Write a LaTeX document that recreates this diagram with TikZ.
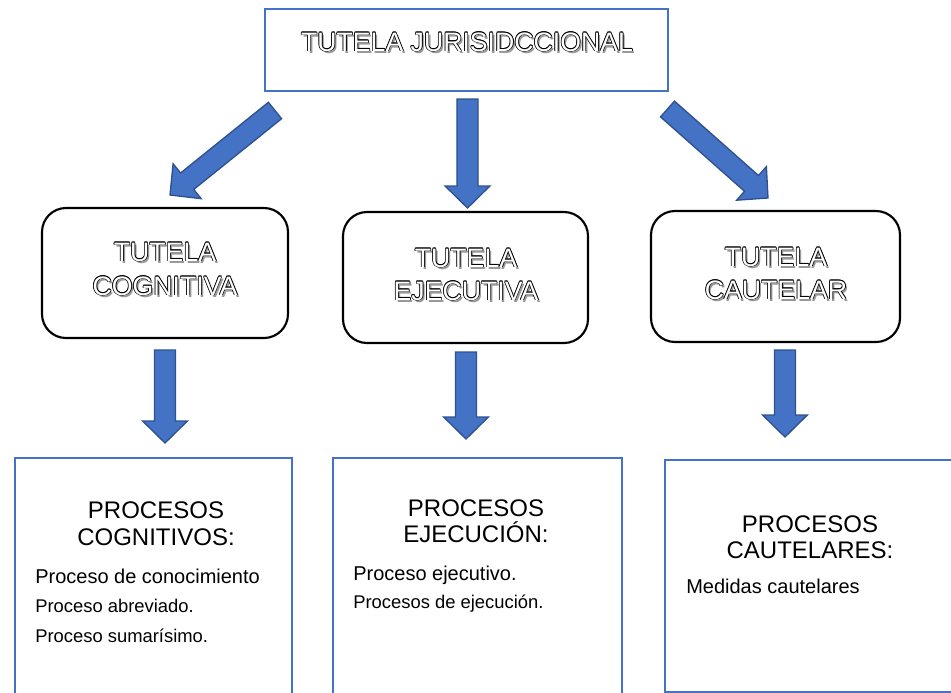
\documentclass[tikz,border=0pt]{standalone}
\usepackage{fontspec}
\setmainfont{Liberation Sans}
\usetikzlibrary{calc,fit}
\definecolor{accblue}{HTML}{4472C4}
\definecolor{accdark}{HTML}{2F528F}
\newcommand\olc[3]{\makebox[0pt][l]{\kern#1\raisebox{#2}{\textcolor{black}{#3}}}}
\newcommand\olt[1]{%
  \makebox[0pt][l]{\kern1.5pt\raisebox{-1.5pt}{\textcolor{black!40}{#1}}}%
  \olc{0.5pt}{0pt}{#1}\olc{-0.5pt}{0pt}{#1}\olc{0pt}{0.5pt}{#1}\olc{0pt}{-0.5pt}{#1}%
  \olc{0.35pt}{0.35pt}{#1}\olc{-0.35pt}{0.35pt}{#1}\olc{0.35pt}{-0.35pt}{#1}\olc{-0.35pt}{-0.35pt}{#1}%
  \textcolor{white}{#1}}
\tikzset{
  bluebox/.style={draw=accblue, line width=1.6pt, inner sep=0pt},
  roundbox/.style={draw=black, line width=1.6pt, rounded corners=18pt, inner sep=0pt},
  olabel/.style={anchor=base, inner sep=0pt, font=\fontsize{20}{24}\selectfont},
  head/.style={anchor=base, inner sep=0pt, font=\fontsize{18}{21}\selectfont},
  itemA/.style={anchor=base west, inner sep=0pt, font=\fontsize{15}{18}\selectfont},
  itemB/.style={anchor=base west, inner sep=0pt, font=\fontsize{13.8}{16}\selectfont},
  blockarr/.style={fill=accblue, draw=accdark, line width=1pt, line join=miter},
}
\newcommand\blockarrow[2]{%
  \coordinate (#1h) at ($(#2)!16.5pt!(#1)$);
  \draw[blockarr]
    ($(#1)!7.9pt!90:(#2)$) --
    ($(#1h)!7.9pt!-90:(#1)$) --
    ($(#1h)!16.8pt!-90:(#1)$) --
    (#2) --
    ($(#1h)!16.8pt!90:(#1)$) --
    ($(#1h)!7.9pt!90:(#1)$) --
    ($(#1)!7.9pt!-90:(#2)$) -- cycle;}
\begin{document}
\begin{tikzpicture}[x=0.75pt,y=-0.75pt]
\useasboundingbox (0,0) rectangle (951,693);
\clip (0,0) rectangle (951,693);
\fill[white] (0,0) rectangle (951,693);

% top box
\node[bluebox, fit={(265,9)(668,91)}] (top) {};
\node[olabel] (toptxt) at (467,51) {\olt{TUTELA JURISIDCCIONAL}};

% rounded boxes
\node[roundbox, fit={(42,208)(288,338)}] (cog) {};
\node[olabel] (cog1) at (165,261) {\olt{TUTELA}};
\node[olabel] (cog2) at (165,295) {\olt{COGNITIVA}};

\node[roundbox, fit={(343,212)(588,343)}] (eje) {};
\node[olabel] (eje1) at (466,267) {\olt{TUTELA}};
\node[olabel] (eje2) at (466,300) {\olt{EJECUTIVA}};

\node[roundbox, fit={(651,211)(900,342)}] (cau) {};
\node[olabel] (cau1) at (776,266) {\olt{TUTELA}};
\node[olabel] (cau2) at (776,299) {\olt{CAUTELAR}};

% bottom boxes
\node[bluebox, fit={(15,458)(292,710)}] (pc) {};
\node[head] (pc1) at (156,518) {PROCESOS};
\node[head] (pc2) at (156,545) {COGNITIVOS:};
\node[itemA] (pc3) at (35,583) {Proceso de conocimiento};
\node[itemB] (pc4) at (35,612) {Proceso abreviado.};
\node[itemB] (pc5) at (35,642) {Proceso sumarísimo.};

\node[bluebox, fit={(333,458)(622,710)}] (pe) {};
\node[head] (pe1) at (476,516) {PROCESOS};
\node[head] (pe2) at (476,542) {EJECUCIÓN:};
\node[itemA] (pe3) at (353,580) {Proceso ejecutivo.};
\node[itemB] (pe4) at (353,608) {Procesos de ejecución.};

\node[bluebox, fit={(665,460)(970,692)}] (pk) {};
\node[head] (pk1) at (810,532) {PROCESOS};
\node[head] (pk2) at (810,558) {CAUTELARES:};
\node[itemA] (pk3) at (686,593) {Medidas cautelares};

% arrows
\coordinate (a1) at (275,110.5); \coordinate (a1t) at (170,195);
\coordinate (a2) at (467.5,99);  \coordinate (a2t) at (467.5,208);
\coordinate (a3) at (667.5,109); \coordinate (a3t) at (768,198);
\coordinate (b1) at (165,350);   \coordinate (b1t) at (165,443);
\coordinate (b2) at (466,352);   \coordinate (b2t) at (466,439);
\coordinate (b3) at (785,350);   \coordinate (b3t) at (785,437);
\blockarrow{a1}{a1t}
\blockarrow{a2}{a2t}
\blockarrow{a3}{a3t}
\blockarrow{b1}{b1t}
\blockarrow{b2}{b2t}
\blockarrow{b3}{b3t}
\end{tikzpicture}
\end{document}
